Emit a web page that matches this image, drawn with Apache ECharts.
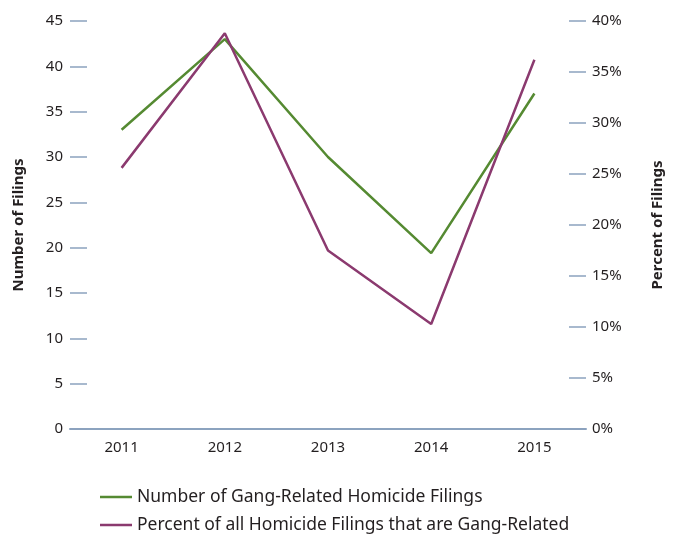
<!DOCTYPE html>
<html>
<head>
<meta charset="utf-8">
<script src="https://cdn.jsdelivr.net/npm/echarts@6/dist/echarts.min.js"></script>
<style>
  html, body { margin: 0; padding: 0; background: #fff; }
  #main { width: 673px; height: 537px; }
</style>
</head>
<body>
<div id="main"></div>
<script>
var years = ['2011', '2012', '2013', '2014', '2015'];
var filings = [33, 43, 30, 19.4, 37];          // number of gang-related homicide filings
var percents = [25.6, 38.8, 17.5, 10.3, 36.2];  // percent of all homicide filings

var tickColor = '#8ca3bf';
var textColor = '#231f20';
var fontFam = '"Noto Sans", "Open Sans", sans-serif';

var myChart = echarts.init(document.getElementById('main'));

var option = {
    animation: false,
    textStyle: { fontFamily: fontFam },
    grid: { left: 70, right: 87, top: 21, bottom: 108 },
    legend: {
        orient: 'vertical',
        left: 100,
        top: 488,
        height: 60,
        padding: 0,
        itemGap: 10,
        icon: 'rect',
        itemWidth: 32,
        itemHeight: 2.5,
        textStyle: { fontSize: 17.5, color: textColor, fontFamily: fontFam },
        data: ['Number of Gang-Related Homicide Filings', 'Percent of all Homicide Filings that are Gang-Related']
    },
    xAxis: {
        type: 'category',
        data: years,
        axisLine: { lineStyle: { color: tickColor, width: 2 } },
        axisTick: { show: false },
        axisLabel: { color: textColor, fontSize: 15, margin: 11 }
    },
    yAxis: [{
        type: 'value',
        min: 0, max: 45, interval: 5,
        name: 'Number of Filings',
        nameLocation: 'middle',
        nameGap: 44,
        nameTextStyle: { fontSize: 15, fontWeight: 'bold', color: textColor },
        axisLine: { show: false },
        axisTick: { show: true, inside: true, length: 17, lineStyle: { color: tickColor, width: 1.5 } },
        axisLabel: { color: textColor, fontSize: 15, margin: 7 },
        splitLine: { show: false }
    }, {
        type: 'value',
        position: 'right',
        min: 0, max: 40, interval: 5,
        name: 'Percent of Filings',
        nameLocation: 'middle',
        nameGap: 64,
        nameTextStyle: { fontSize: 15, fontWeight: 'bold', color: textColor },
        axisLine: { show: false },
        axisTick: { show: true, inside: true, length: 17, lineStyle: { color: tickColor, width: 1.5 } },
        axisLabel: { color: textColor, fontSize: 15, margin: 6, formatter: '{value}%' },
        splitLine: { show: false }
    }],
    series: [{
        name: 'Number of Gang-Related Homicide Filings',
        type: 'line',
        data: filings,
        symbol: 'none',
        itemStyle: { color: '#558a32' },
        lineStyle: { color: '#558a32', width: 2.5 }
    }, {
        name: 'Percent of all Homicide Filings that are Gang-Related',
        type: 'line',
        yAxisIndex: 1,
        data: percents,
        symbol: 'none',
        itemStyle: { color: '#8b3a6f' },
        lineStyle: { color: '#8b3a6f', width: 2.5 }
    }]
};

myChart.setOption(option);
</script>
</body>
</html>
